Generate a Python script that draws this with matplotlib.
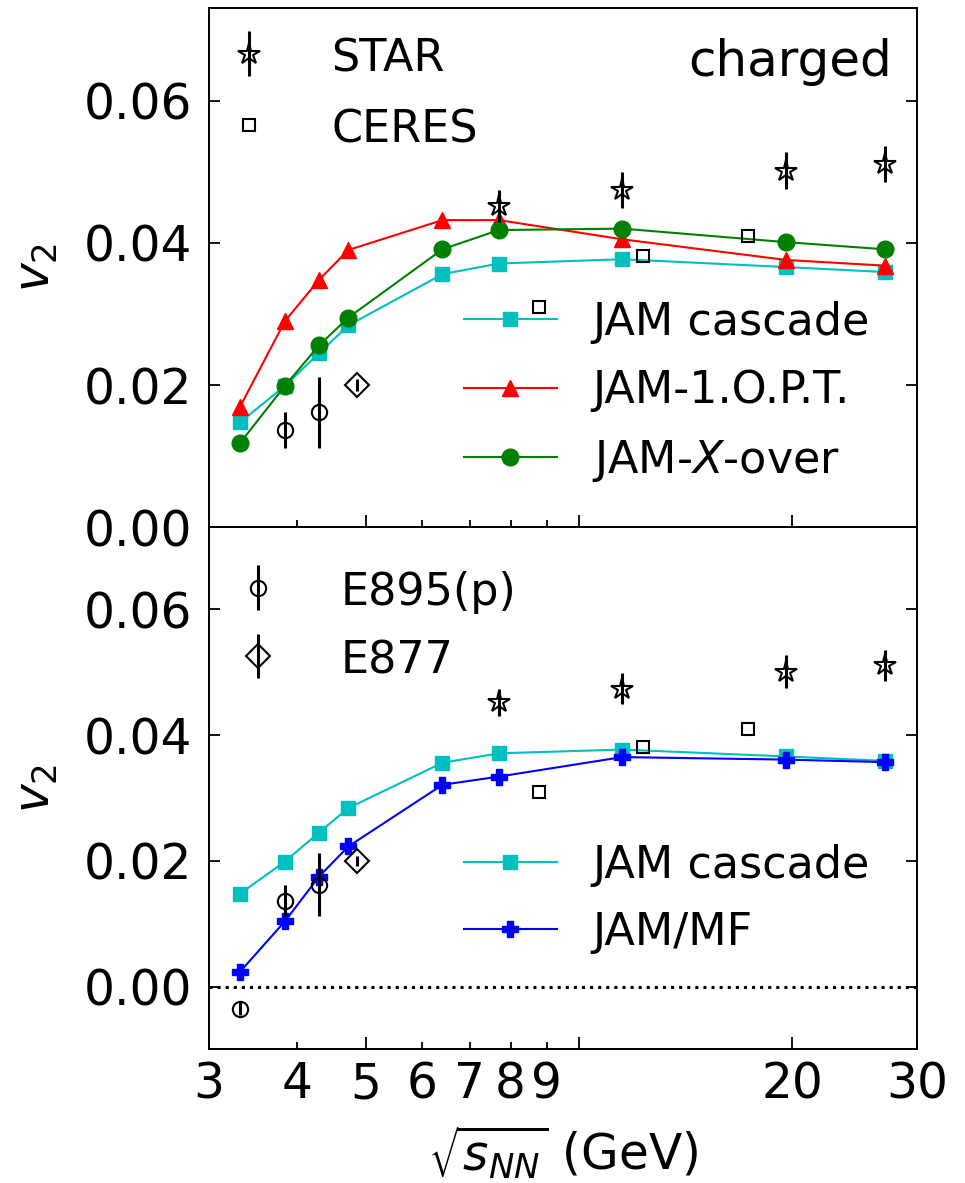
import matplotlib
matplotlib.use('Agg')
import matplotlib.pyplot as plt
from matplotlib.ticker import FixedLocator, FixedFormatter, NullFormatter

# ---------------- data ----------------
jam_x = [3.32, 3.84, 4.29, 4.72, 6.41, 7.7, 11.5, 19.6, 27.0]
cascade_v2 = [0.0148, 0.0199, 0.0245, 0.0284, 0.0356, 0.0371, 0.0377, 0.0366, 0.0359]
opt1_v2 = [0.0170, 0.0290, 0.0348, 0.0390, 0.0432, 0.0432, 0.0405, 0.0376, 0.0368]
xover_v2 = [0.0119, 0.0199, 0.0256, 0.0295, 0.0391, 0.0418, 0.0420, 0.0401, 0.0391]
mf_v2 = [0.0024, 0.0104, 0.0175, 0.0223, 0.0321, 0.0334, 0.0365, 0.0361, 0.0357]

star_x = [7.7, 11.5, 19.6, 27.0]
star_v2 = [0.0452, 0.0474, 0.0501, 0.0511]
star_err = [0.0022, 0.0025, 0.0026, 0.0025]

ceres_x = [8.77, 12.3, 17.3]
ceres_v2 = [0.0310, 0.0381, 0.0410]

e895_x = [3.32, 3.84, 4.29]
e895_v2 = [-0.0035, 0.0137, 0.0162]
e895_err = [0.0010, 0.0025, 0.0050]

e877_x = [4.85]
e877_v2 = [0.0200]
e877_err = [0.0008]

major_ticks = [5, 10, 20]
major_labels = ['5', '', '20']
minor_ticks = [3, 4, 6, 7, 8, 9, 30]
minor_labels = ['3', '4', '6', '7', '8', '9', '30']
y_ticks = [0.0, 0.02, 0.04, 0.06]

# ---------------- style ----------------
FS_TICK = 35
FS_LEG = 32
plt.rcParams['font.family'] = ['DejaVu Sans']
plt.rcParams['mathtext.fontset'] = 'dejavusans'
plt.rcParams['axes.linewidth'] = 1.4

fig = plt.figure(figsize=(9.65, 11.83), dpi=100)
ax1 = fig.add_axes([0.2166, 0.5541, 0.7337, 0.4391])
ax2 = fig.add_axes([0.2166, 0.1133, 0.7337, 0.4408])


def setup(ax, show_x):
    ax.set_xscale('log')
    ax.set_xlim(3, 30)
    ax.xaxis.set_major_locator(FixedLocator(major_ticks))
    ax.xaxis.set_minor_locator(FixedLocator(minor_ticks))
    if show_x:
        ax.xaxis.set_major_formatter(FixedFormatter(major_labels))
        ax.xaxis.set_minor_formatter(FixedFormatter(minor_labels))
    else:
        ax.xaxis.set_major_formatter(NullFormatter())
        ax.xaxis.set_minor_formatter(NullFormatter())
    ax.set_yticks(y_ticks)
    ax.set_yticklabels(['%.2f' % v for v in y_ticks])
    ax.tick_params(axis='x', which='major', direction='in', length=9, width=1.3,
                   labelsize=FS_TICK, pad=8, top=False)
    ax.tick_params(axis='x', which='minor', direction='in', length=5, width=1.3,
                   labelsize=FS_TICK, pad=8, top=False)
    ax.tick_params(axis='y', which='major', direction='in', length=8, width=1.3,
                   labelsize=FS_TICK, right=True, pad=12)
    ax.set_ylabel('$v_2$', fontsize=FS_TICK)
    ax.yaxis.set_label_coords(-0.21, 0.5)


setup(ax1, False)
setup(ax2, True)
ax1.set_ylim(0.0, 0.073)
ax2.set_ylim(-0.0099, 0.073)

data_kw = dict(linestyle='none', mfc='none', mec='k', ecolor='k', elinewidth=2.2,
               capsize=0, mew=1.5)

# ---------- top panel ----------
l1, = ax1.plot(jam_x, cascade_v2, '-s', color='#00bfbf', lw=1.5, ms=10, label='JAM cascade')
l2, = ax1.plot(jam_x, opt1_v2, '-^', color='red', lw=1.5, ms=11, label='JAM-1.O.P.T.')
l3, = ax1.plot(jam_x, xover_v2, '-o', color='green', lw=1.5, ms=12, label='JAM-$X$-over')

h_star = ax1.errorbar(star_x, star_v2, yerr=star_err, marker='*', ms=16, label='STAR', **data_kw)
h_ceres, = ax1.plot(ceres_x, ceres_v2, linestyle='none', marker='s', ms=9, mfc='none',
                    mec='k', mew=1.5, label='CERES')
ax1.errorbar(e895_x, e895_v2, yerr=e895_err, marker='o', ms=11, **data_kw)
ax1.errorbar(e877_x, e877_v2, yerr=e877_err, marker='D', ms=12, **data_kw)

leg_a = ax1.legend([h_star, h_ceres], ['STAR', 'CERES'], loc='upper left',
                   bbox_to_anchor=(0.0099, 0.946), borderaxespad=0, borderpad=0,
                   frameon=False, fontsize=FS_LEG, handlelength=1.5, handletextpad=1.1,
                   handleheight=1.0, labelspacing=0.62, numpoints=1)
ax1.add_artist(leg_a)
ax1.legend([l1, l2, l3], ['JAM cascade', 'JAM-1.O.P.T.', 'JAM-$X$-over'], loc='upper left',
           bbox_to_anchor=(0.360, 0.436), borderaxespad=0, borderpad=0,
           frameon=False, fontsize=FS_LEG, handlelength=2.09, handletextpad=0.8,
           labelspacing=0.57, numpoints=1)
ax1.text(0.9643, 0.869, 'charged', transform=ax1.transAxes, ha='right', va='baseline',
         fontsize=36)

# ---------- bottom panel ----------
ax2.axhline(0.0, color='k', ls=':', lw=2.2)
m1, = ax2.plot(jam_x, cascade_v2, '-s', color='#00bfbf', lw=1.5, ms=10, label='JAM cascade')
m2, = ax2.plot(jam_x, mf_v2, '-P', color='blue', lw=1.5, ms=11, label='JAM/MF')

ax2.errorbar(star_x, star_v2, yerr=star_err, marker='*', ms=16, **data_kw)
ax2.plot(ceres_x, ceres_v2, linestyle='none', marker='s', ms=9, mfc='none', mec='k', mew=1.5)
h_e895 = ax2.errorbar(e895_x, e895_v2, yerr=e895_err, marker='o', ms=11, **data_kw)
h_e877 = ax2.errorbar(e877_x, e877_v2, yerr=e877_err, marker='D', ms=12, **data_kw)

leg_b = ax2.legend([h_e895, h_e877], ['E895(p)', 'E877'], loc='upper left',
                   bbox_to_anchor=(0.0226, 0.9185), borderaxespad=0, borderpad=0,
                   frameon=False, fontsize=FS_LEG, handlelength=1.5, handletextpad=1.1,
                   handleheight=1.0, labelspacing=0.55, numpoints=1)
ax2.add_artist(leg_b)
ax2.legend([m1, m2], ['JAM cascade', 'JAM/MF'], loc='upper left',
           bbox_to_anchor=(0.360, 0.3936), borderaxespad=0, borderpad=0,
           frameon=False, fontsize=FS_LEG, handlelength=2.09, handletextpad=0.8,
           labelspacing=0.54, numpoints=1)

ax2.set_xlabel(r'$\sqrt{s_{NN}}$ (GeV)', fontsize=FS_TICK)
ax2.xaxis.set_label_coords(0.5, -0.143)

fig.savefig('out.png', dpi=100)
